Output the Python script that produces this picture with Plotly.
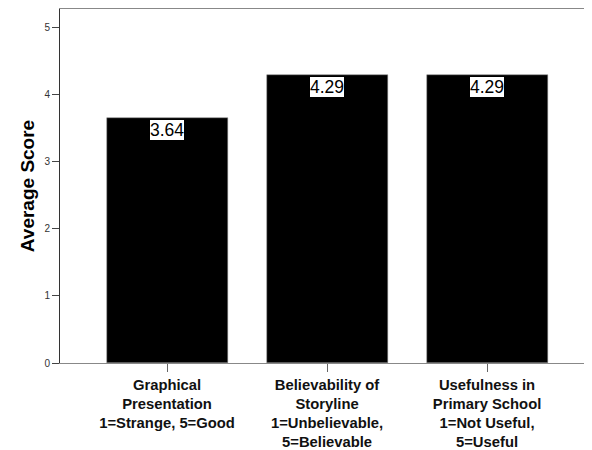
import plotly.graph_objects as go

# Data
categories = ["Graphical Presentation", "Believability of Storyline", "Usefulness in Primary School"]
tick_labels = [
    "<b>Graphical<br>Presentation<br>1=Strange, 5=Good</b>",
    "<b>Believability of<br>Storyline<br>1=Unbelievable,<br>5=Believable</b>",
    "<b>Usefulness in<br>Primary School<br>1=Not Useful,<br>5=Useful</b>",
]
scores = [3.64, 4.29, 4.29]
y_ticks = [0, 1, 2, 3, 4, 5]

fig = go.Figure()
fig.add_trace(go.Bar(
    x=categories,
    y=scores,
    width=0.756,
    marker_color='black',
    marker_line=dict(color='#888888', width=0.5),
    showlegend=False,
))

# value labels in white boxes at the top of each bar
for c, s in zip(categories, scores):
    fig.add_annotation(
        x=c, y=s, yanchor='top', yshift=-1,
        text=f"{s:.2f}", showarrow=False,
        font=dict(family="Arial, Liberation Sans", size=17.5, color='black'),
        bgcolor='white', bordercolor='black', borderwidth=1, borderpad=0,
    )

# page body has an 8px margin, so the figure is 8px smaller than the window
fig.update_layout(
    width=584, height=442,
    margin=dict(l=52, r=0, t=1, b=87),
    paper_bgcolor='white', plot_bgcolor='white',
    font=dict(family="Arial, Liberation Sans", color='black'),
    bargap=0,
)
fig.update_xaxes(
    range=[-0.669, 2.656],
    tickvals=categories, ticktext=tick_labels,
    tickfont=dict(size=14.8, color='#111111'),
    ticks='outside', ticklen=8, tickcolor='#666666',
    showline=True, mirror=True, linecolor='#888888', linewidth=1,
    showgrid=False, zeroline=False, automargin=False,
)
fig.update_yaxes(
    range=[0, 5.27],
    tickvals=y_ticks,
    tickfont=dict(size=10, color='#333333'),
    ticks='outside', ticklen=7, tickcolor='#444444',
    showline=True, linecolor='#333333', linewidth=1,
    showgrid=False, zeroline=False, automargin=False,
    title=dict(text="<b>Average Score</b>", font=dict(size=19, color='black'), standoff=4),
)

fig.write_html("out.html")
